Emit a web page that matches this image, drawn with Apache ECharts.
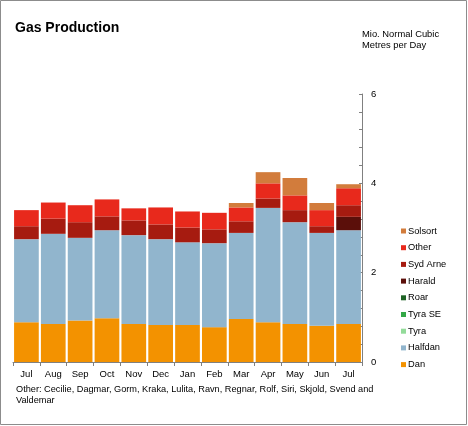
<!DOCTYPE html>
<html><head><meta charset="utf-8">
<script src="https://cdn.jsdelivr.net/npm/echarts@6/dist/echarts.min.js"></script>
<style>html,body{margin:0;padding:0;background:#fff}#c{width:468px;height:426px}</style>
</head><body><div id="c"></div>
<script>
const categories = ['Jul','Aug','Sep','Oct','Nov','Dec','Jan','Feb','Mar','Apr','May','Jun','Jul'];
const dan     = [0.89,0.85,0.93,0.98,0.85,0.83,0.83,0.78,0.96,0.89,0.85,0.81,0.85];
const halfdan = [1.86,2.02,1.85,1.97,1.99,1.92,1.85,1.88,1.93,2.56,2.28,2.08,2.10];
const tyra    = [0,0,0,0,0,0,0,0,0,0,0,0,0];
const tyraSE  = [0,0,0,0,0,0,0,0,0,0,0,0,0];
const roar    = [0,0,0,0,0,0,0,0,0,0,0,0,0];
const harald  = [0,0,0,0,0,0,0,0,0,0,0,0,0.30];
const sydArne = [0.29,0.34,0.35,0.31,0.33,0.33,0.33,0.31,0.26,0.21,0.27,0.15,0.26];
const other   = [0.36,0.36,0.38,0.38,0.27,0.38,0.36,0.37,0.31,0.34,0.33,0.36,0.38];
const solsort = [0,0,0,0,0,0,0,0,0.10,0.25,0.39,0.16,0.09];
const yTicks = [0,2,4,6];

const seriesDefs = [
  ['Dan', dan, '#F39200'],
  ['Halfdan', halfdan, '#91B5CD'],
  ['Tyra', tyra, '#93DB9A'],
  ['Tyra SE', tyraSE, '#33A846'],
  ['Roar', roar, '#1E6325'],
  ['Harald', harald, '#5B0F0A'],
  ['Syd Arne', sydArne, '#A61B10'],
  ['Other', other, '#E8291C'],
  ['Solsort', solsort, '#D27C3C']
];
const font = 'Liberation Sans, Arial, sans-serif';
const chart = echarts.init(document.getElementById('c'), null, {renderer:'canvas'});
chart.setOption({
  animation:false,
  textStyle:{fontFamily:font},
  grid:{left:13, right:106, top:94, bottom:64},
  legend:{
    orient:'vertical', left:396, top:220,
    itemWidth:5, itemHeight:5, itemGap:4.7, icon:'rect',
    textStyle:{fontSize:9.3, color:'#000', fontFamily:font, lineHeight:12, padding:[0,0,0,-3]},
    data: seriesDefs.map(s=>s[0]).reverse()
  },
  xAxis:{
    type:'category', data:categories,
    axisLine:{lineStyle:{color:'#808080'}},
    axisTick:{show:true, length:4, lineStyle:{color:'#808080'}},
    axisLabel:{color:'#000', fontSize:9.5, margin:7, fontFamily:font}
  },
  yAxis:{
    type:'value', position:'right', min:0, max:6, interval:0.4,
    splitLine:{show:false},
    axisLine:{show:true, lineStyle:{color:'#808080'}},
    axisTick:{show:true, inside:true, length:3, lineStyle:{color:'#808080'}},
    axisLabel:{color:'#000', fontSize:9.5, margin:9, fontFamily:font,
      formatter:v=>{ const r=Math.round(v*10)/10; return yTicks.includes(r)?String(r):''; }}
  },
  series: seriesDefs.map(s=>({
    name:s[0], type:'bar', stack:'total', data:s[1], barCategoryGap:'8%',
    itemStyle:{color:s[2]}
  })),
  graphic:[
    {type:'rect', shape:{x:0.5,y:0.5,width:466,height:424}, style:{fill:'none', stroke:'#8c8c8c', lineWidth:1}, silent:true},
    {type:'text', left:15, top:21, style:{text:'Gas Production', font:'bold 14px '+font, fill:'#000'}},
    {type:'text', left:362, top:29, style:{text:'Mio. Normal Cubic\nMetres per Day', font:'9.4px '+font, fill:'#000', lineHeight:11}},
    {type:'text', left:16, top:384, style:{text:'Other: Cecilie, Dagmar, Gorm, Kraka, Lulita, Ravn, Regnar, Rolf, Siri, Skjold, Svend and\nValdemar', font:'9.2px '+font, fill:'#000', lineHeight:11}}
  ]
});
</script></body></html>
